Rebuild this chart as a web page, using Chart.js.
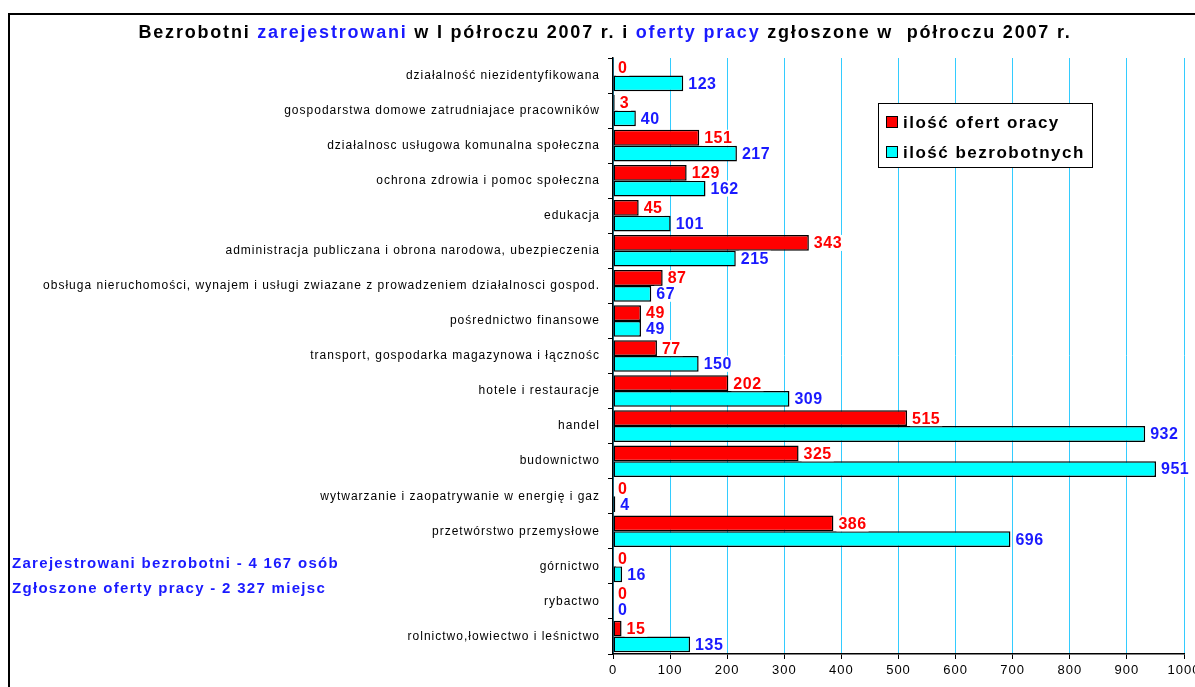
<!DOCTYPE html>
<html>
<head>
<meta charset="utf-8">
<script src="https://cdn.jsdelivr.net/npm/chart.js@4.4.0/dist/chart.umd.min.js"></script>
<style>
  html, body { margin: 0; padding: 0; background: #fff; }
  #wrap { width: 1195px; height: 687px; position: relative; }
</style>
</head>
<body>
<div id="wrap"><canvas id="chart"></canvas></div>
<script>
const categories = [
  "działalność niezidentyfikowana",
  "gospodarstwa domowe zatrudniajace pracowników",
  "działalnosc usługowa komunalna społeczna",
  "ochrona zdrowia i pomoc społeczna",
  "edukacja",
  "administracja publiczana i obrona narodowa, ubezpieczenia",
  "obsługa nieruchomości, wynajem i usługi zwiazane z prowadzeniem działalnosci gospod.",
  "pośrednictwo finansowe",
  "transport, gospodarka magazynowa i łącznośc",
  "hotele i restauracje",
  "handel",
  "budownictwo",
  "wytwarzanie i zaopatrywanie w energię i gaz",
  "przetwórstwo przemysłowe",
  "górnictwo",
  "rybactwo",
  "rolnictwo,łowiectwo i leśnictwo"
];
const offers     = [0, 3, 151, 129, 45, 343, 87, 49, 77, 202, 515, 325, 0, 386, 0, 0, 15];
const unemployed = [123, 40, 217, 162, 101, 215, 67, 49, 150, 309, 932, 951, 4, 696, 16, 0, 135];
const seriesNames = ["ilość ofert oracy", "ilość bezrobotnych"];
const xMin = 0, xMax = 1000, xStep = 100;

const titleParts = [
  ["Bezrobotni ", "#000"],
  ["zarejestrowani", "#1a1aff"],
  [" w I półroczu 2007 r. i ", "#000"],
  ["oferty pracy", "#1a1aff"],
  [" zgłoszone w  półroczu 2007 r.", "#000"]
];
const notes = ["Zarejestrowani bezrobotni - 4 167 osób", "Zgłoszone oferty pracy - 2 327 miejsc"];

const FONT = "'Liberation Sans', Arial, sans-serif";
const labelColors = ["#ff0000", "#1a1aff"];

const extras = {
  id: "extras",
  beforeLayout(chart) { chart.ctx.letterSpacing = "1px"; },
  beforeDraw(chart) {
    const c = chart.ctx;
    c.letterSpacing = "1px";
    c.save();
    c.fillStyle = "#fff";
    c.fillRect(0, 0, chart.width, chart.height);
    c.strokeStyle = "#000";
    c.lineWidth = 2;
    c.strokeRect(9, 14, chart.width + 10, chart.height + 10);

    // title in several colours
    c.font = "bold 18px " + FONT;
    c.letterSpacing = "1.8px";
    c.textBaseline = "middle";
    c.textAlign = "left";
    let total = 0;
    titleParts.forEach(p => total += c.measureText(p[0]).width);
    let x = 605 - total / 2;
    titleParts.forEach(p => {
      c.fillStyle = p[1];
      c.fillText(p[0], x, 33);
      x += c.measureText(p[0]).width;
    });
    c.restore();
  },
  afterDatasetsDraw(chart) {
    const c = chart.ctx;
    c.save();
    c.font = "bold 16px " + FONT;
    c.letterSpacing = "0.5px";
    c.textBaseline = "middle";
    c.textAlign = "left";
    chart.data.datasets.forEach((ds, di) => {
      const meta = chart.getDatasetMeta(di);
      meta.data.forEach((bar, i) => {
        const txt = String(ds.data[i]);
        const w = c.measureText(txt).width;
        const tx = bar.x + 5, ty = bar.y;
        c.fillStyle = "#fff";
        c.fillRect(tx - 2, ty - 8, w + 4, 16);
        c.fillStyle = labelColors[di];
        c.fillText(txt, tx, ty + 1);
      });
    });
    c.restore();
  },
  afterDraw(chart) {
    const c = chart.ctx;
    c.save();
    // legend box
    c.fillStyle = "#fff";
    c.fillRect(878, 103, 214, 64);
    c.strokeStyle = "#000";
    c.lineWidth = 1;
    c.strokeRect(878.5, 103.5, 214, 64);
    c.font = "bold 17px " + FONT;
    c.letterSpacing = "1.5px";
    c.textBaseline = "middle";
    chart.data.datasets.forEach((ds, i) => {
      const y = 122 + i * 30;
      c.fillStyle = ds.backgroundColor;
      c.fillRect(886, y - 6, 12, 12);
      c.strokeStyle = "#000";
      c.strokeRect(886.5, y - 5.5, 11, 11);
      c.fillStyle = "#000";
      c.fillText(ds.label, 903, y + 1);
    });
    // notes
    c.font = "bold 15px " + FONT;
    c.letterSpacing = "1.3px";
    c.fillStyle = "#1a1aff";
    notes.forEach((t, i) => c.fillText(t, 12, 564 + i * 25));
    c.restore();
  }
};

new Chart(document.getElementById("chart"), {
  type: "bar",
  data: {
    labels: categories,
    datasets: [
      { label: seriesNames[0], data: offers, backgroundColor: "#ff0000" },
      { label: seriesNames[1], data: unemployed, backgroundColor: "#00ffff" }
    ]
  },
  options: {
    indexAxis: "y",
    responsive: true,
    maintainAspectRatio: false,
    animation: false,
    layout: { padding: { top: 58, right: 11, bottom: 0, left: 0 } },
    datasets: {
      bar: {
        borderColor: "#000",
        borderWidth: 1.5,
        borderSkipped: false,
        categoryPercentage: 0.9,
        barPercentage: 1.0
      }
    },
    plugins: { legend: { display: false }, title: { display: false }, tooltip: { enabled: false } },
    scales: {
      x: {
        min: xMin, max: xMax,
        ticks: { stepSize: xStep, color: "#000", font: { family: FONT, size: 13 }, padding: 4, maxRotation: 0,
                 callback: v => String(v) },
        grid: { color: "#33ccff", lineWidth: 1, tickColor: "#000", tickLength: 5 },
        border: { color: "#000", width: 1.5 },
        afterFit(s) { s.height = 33; s.paddingLeft = 0; s.paddingRight = 0; }
      },
      y: {
        ticks: { color: "#000", font: { family: FONT, size: 12 }, padding: 8, autoSkip: false },
        grid: { drawOnChartArea: false, color: "#000", tickLength: 5, offset: true },
        border: { color: "#000", width: 1.5 },
        afterFit(s) { s.width = 613; s.paddingTop = 0; s.paddingBottom = 0; }
      }
    }
  },
  plugins: [extras]
});
</script>
</body>
</html>
